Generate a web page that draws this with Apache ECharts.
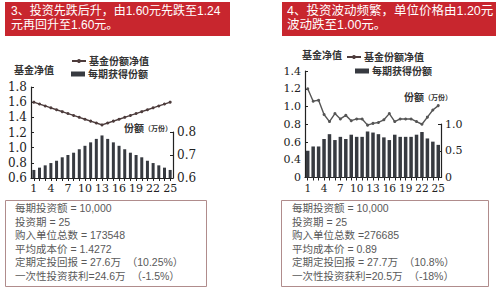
<!DOCTYPE html>
<html>
<head>
<meta charset="utf-8">
<script src="https://cdn.jsdelivr.net/npm/echarts@6/dist/echarts.min.js"></script>
<style>
html, body { margin: 0; padding: 0; background: #fff; }
#chart { width: 500px; height: 290px; }
</style>
</head>
<body>
<div id="chart"></div>
<script>
// 期数
const periods = ['1', '2', '3', '4', '5', '6', '7', '8', '9', '10', '11', '12', '13',
  '14', '15', '16', '17', '18', '19', '20', '21', '22', '23', '24', '25'];

// 情形3：先跌后升 —— 基金份额净值（元）/ 每期获得份额（万份）
const navFallRise = [1.60, 1.575, 1.55, 1.525, 1.50, 1.475, 1.45, 1.425, 1.40, 1.375, 1.35, 1.325, 1.30,
  1.325, 1.35, 1.375, 1.40, 1.425, 1.45, 1.475, 1.50, 1.525, 1.55, 1.575, 1.60];
const sharesFallRise = [0.635, 0.645, 0.655, 0.665, 0.675, 0.69, 0.70, 0.71, 0.725, 0.74, 0.755, 0.77, 0.785,
  0.77, 0.755, 0.74, 0.725, 0.71, 0.70, 0.69, 0.675, 0.665, 0.655, 0.645, 0.635];

// 情形4：波动频繁
const navVolatile = [1.20, 1.06, 1.07, 0.91, 0.83, 0.92, 0.86, 0.90, 0.84, 0.86, 0.86, 0.79, 0.81,
  0.82, 0.85, 0.92, 0.83, 0.86, 0.86, 0.86, 0.83, 0.80, 0.88, 0.96, 1.01];
const sharesVolatile = [0.50, 0.58, 0.58, 0.72, 0.81, 0.70, 0.76, 0.72, 0.80, 0.76, 0.76, 0.86, 0.84,
  0.81, 0.75, 0.70, 0.80, 0.76, 0.76, 0.76, 0.80, 0.85, 0.73, 0.67, 0.61];

// 刻度
const navTicksA = [0.6, 0.8, 1.0, 1.2, 1.4, 1.6, 1.8];
const shareTicksA = [0.6, 0.7, 0.8];
const navTicksB = [0.2, 0.4, 0.6, 0.8, 1.0, 1.2, 1.4];
const navLabelsB = ['0', '0.4', '0.6', '0.8', '1.0', '1.2', '1.4']; // 断轴，最底下标成 0
const shareTicksB = [0, 0.5, 1.0];

// 文字
const titleA = ['3、投资先跌后升，由1.60元先跌至1.24', '元再回升至1.60元。'];
const titleB = ['4、投资波动频繁，单位价格由1.20元', '波动跌至1.00元。'];
const statsA = ['每期投资额 = 10,000', '投资期 = 25', '购入单位总数 = 173548', '平均成本价 = 1.4272',
  '定期定投回报 = 27.6万  （10.25%）', '一次性投资获利=24.6万  （-1.5%）'];
const statsB = ['每期投资额 = 10,000', '投资期 = 25', '购入单位总数 =276685', '平均成本价 = 0.89',
  '定期定投回报 = 27.7万  （10.8%）', '一次性投资获利=20.5万  （-18%）'];

const LINE_NAME = '基金份额净值';
const BAR_NAME = '每期获得份额';
const CJK = '"Liberation Sans", "Noto Sans CJK SC", sans-serif';
const SERIF = '"DejaVu Serif", serif';
const AXIS_COLOR = '#222';

function catAxis(gridIndex, show, fontSize) {
  return {
    type: 'category',
    gridIndex: gridIndex,
    data: periods,
    show: show,
    axisLine: { lineStyle: { color: AXIS_COLOR, width: 1.2 } },
    axisTick: { show: true, alignWithLabel: true, interval: 0, length: 3, lineStyle: { color: AXIS_COLOR } },
    axisLabel: { interval: 2, color: AXIS_COLOR, fontFamily: SERIF, fontSize: fontSize, margin: 5 }
  };
}

function valAxis(gridIndex, position, ticks, fontSize, formatter) {
  return {
    type: 'value',
    gridIndex: gridIndex,
    position: position,
    min: ticks[0],
    max: ticks[ticks.length - 1],
    interval: Number((ticks[1] - ticks[0]).toFixed(2)),
    splitLine: { show: false },
    axisLine: { show: true, lineStyle: { color: AXIS_COLOR, width: 1.2 } },
    axisTick: { show: true, inside: true, length: 3, lineStyle: { color: AXIS_COLOR } },
    axisLabel: {
      color: AXIS_COLOR, fontFamily: SERIF, fontSize: fontSize, margin: 4,
      formatter: formatter || function (v) { return v === 0 ? '0' : v.toFixed(1) }
    }
  };
}

function lineSeries(x, y, data, color) {
  return {
    name: LINE_NAME, type: 'line', xAxisIndex: x, yAxisIndex: y, data: data,
    symbol: 'circle', symbolSize: 3,
    lineStyle: { color: color, width: 1.4 },
    itemStyle: { color: color }
  };
}

function barSeries(x, y, data, width) {
  return {
    name: BAR_NAME, type: 'bar', xAxisIndex: x, yAxisIndex: y, data: data,
    barWidth: width,
    itemStyle: { color: '#373a40' }
  };
}

// 每个图例只放一项，方便逐行定位
function legendAt(left, top, name) {
  return {
    left: left, top: top,
    itemWidth: 14, itemHeight: 5,
    textStyle: { color: '#333', fontFamily: CJK, fontSize: 10, fontWeight: 'bold', padding: [0, 0, 0, -2] },
    data: [{ name: name, icon: name === BAR_NAME ? 'rect' : undefined }]
  };
}

function textEl(x, y, text, opts) {
  return {
    type: 'text', x: x, y: y,
    style: Object.assign({ text: text, verticalAlign: 'top' }, opts)
  };
}

function linesEl(x, y, lines, step, opts) {
  return lines.map((t, i) => textEl(x, y + i * step, t, opts));
}

function axisName(x, y) {
  return {
    type: 'text', x: x, y: y,
    style: {
      text: '{a|份额}{b|（万份）}', verticalAlign: 'middle',
      rich: {
        a: { fontFamily: CJK, fontSize: 10, fontWeight: 'bold', fill: '#333' },
        b: { fontFamily: CJK, fontSize: 7, fontWeight: 'bold', fill: '#333' }
      }
    }
  };
}

const chart = echarts.init(document.getElementById('chart'), null, { renderer: 'svg' });

const option = {
  backgroundColor: '#fff',
  animation: false,
  grid: [
    { left: 31, top: 87, width: 142, height: 91 },
    { left: 31, top: 132, width: 142, height: 46 },
    { left: 305, top: 71, width: 136, height: 106.5 },
    { left: 305, top: 124, width: 136, height: 53.5 }
  ],
  xAxis: [
    catAxis(0, true, 11),
    catAxis(1, false, 11),
    catAxis(2, true, 10.5),
    catAxis(3, false, 10.5)
  ],
  yAxis: [
    valAxis(0, 'left', navTicksA, 12),
    valAxis(1, 'right', shareTicksA, 12),
    valAxis(2, 'left', navTicksB, 11, function (v, i) { return navLabelsB[i] }),
    valAxis(3, 'right', shareTicksB, 11)
  ],
  legend: [
    legendAt(66, 51, LINE_NAME),
    legendAt(66, 64, BAR_NAME),
    legendAt(341, 47, LINE_NAME),
    legendAt(350, 61, BAR_NAME)
  ],
  series: [
    barSeries(1, 1, sharesFallRise, 3),
    lineSeries(0, 0, navFallRise, '#4d3c3c'),
    barSeries(3, 3, sharesVolatile, 3.5),
    lineSeries(2, 2, navVolatile, '#555')
  ],
  graphic: [
    // 红色标题框
    { type: 'rect', shape: { x: 5, y: 2, width: 225, height: 34 }, style: { fill: '#c8262e' } },
    ...linesEl(11, 5, titleA, 14, { fill: '#fff', font: '12px ' + CJK }),
    { type: 'rect', shape: { x: 282, y: 2, width: 214, height: 34 }, style: { fill: '#c8262e' } },
    ...linesEl(287, 5, titleB, 14, { fill: '#fff', font: '12.5px ' + CJK }),
    // 轴名
    textEl(14, 65, '基金净值', { fill: '#333', font: 'bold 10px ' + CJK }),
    textEl(302, 50, '基金净值', { fill: '#333', font: 'bold 10px ' + CJK }),
    axisName(124, 128),
    axisName(404, 97),
    // 统计框
    { type: 'rect', shape: { x: 5.5, y: 200.5, width: 201, height: 86 }, style: { fill: 'none', stroke: '#b08c8c', lineWidth: 1 } },
    ...linesEl(15, 203, statsA, 13.5, { fill: '#595959', font: '10.5px ' + CJK }),
    { type: 'rect', shape: { x: 281.5, y: 200.5, width: 207, height: 86 }, style: { fill: 'none', stroke: '#b08c8c', lineWidth: 1 } },
    ...linesEl(292, 203, statsB, 13.5, { fill: '#595959', font: '10.5px ' + CJK })
  ]
};

chart.setOption(option);
</script>
</body>
</html>
